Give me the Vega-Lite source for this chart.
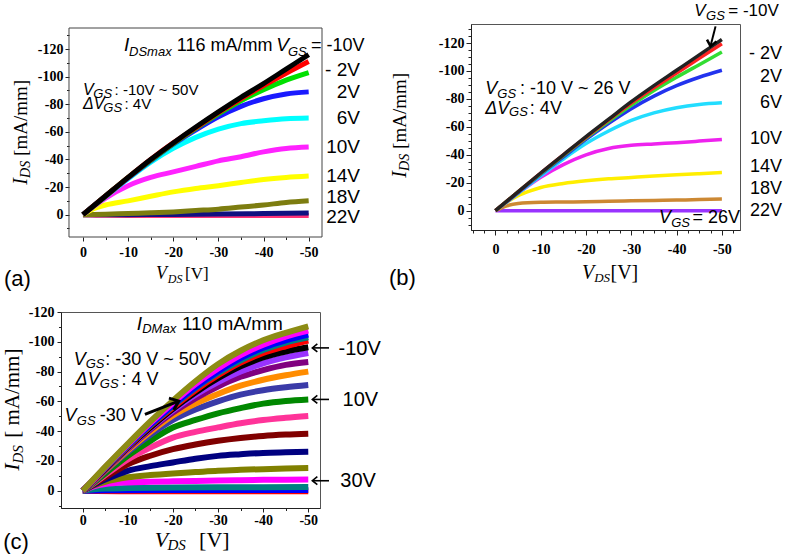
{
"$schema": "https://vega.github.io/schema/vega-lite/v6.json",
"background": "white",
"padding": {"left": 0, "top": 1, "right": 0, "bottom": 0},
"config": {
  "view": {"stroke": "#555", "strokeWidth": 1},
  "axis": {"labelFont": "Liberation Serif", "labelFontWeight": "bold", "labelFontSize": 14, "labelColor": "#000", "tickColor": "#222", "domainColor": "#222", "grid": false, "labelFlush": false, "labelOverlap": false}
},
"resolve": {"scale": {"color": "independent"}},
"datasets": {
  "a": [
    {"vgs":"26","vds":0,"ids":0},{"vgs":"26","vds":-5,"ids":0.5},{"vgs":"26","vds":-10,"ids":0.6},{"vgs":"26","vds":-20,"ids":0.6},{"vgs":"26","vds":-30,"ids":0.6},{"vgs":"26","vds":-40,"ids":0.6},{"vgs":"26","vds":-50,"ids":0.6},
    {"vgs":"22","vds":0,"ids":0},{"vgs":"22","vds":-10,"ids":0},{"vgs":"22","vds":-20,"ids":-0.2},{"vgs":"22","vds":-30,"ids":-0.4},{"vgs":"22","vds":-40,"ids":-0.8},{"vgs":"22","vds":-50,"ids":-1.2},
    {"vgs":"18","vds":0,"ids":0},{"vgs":"18","vds":-5,"ids":-0.3},{"vgs":"18","vds":-10,"ids":-0.8},{"vgs":"18","vds":-15,"ids":-1.3},{"vgs":"18","vds":-20,"ids":-2},{"vgs":"18","vds":-25,"ids":-3},{"vgs":"18","vds":-30,"ids":-4},{"vgs":"18","vds":-35,"ids":-5.5},{"vgs":"18","vds":-40,"ids":-7},{"vgs":"18","vds":-45,"ids":-8.8},{"vgs":"18","vds":-50,"ids":-10},
    {"vgs":"14","vds":0,"ids":0},{"vgs":"14","vds":-2.5,"ids":-4.5},{"vgs":"14","vds":-5,"ids":-7},{"vgs":"14","vds":-10,"ids":-10},{"vgs":"14","vds":-15,"ids":-13.3},{"vgs":"14","vds":-20,"ids":-16.5},{"vgs":"14","vds":-25,"ids":-19},{"vgs":"14","vds":-30,"ids":-21},{"vgs":"14","vds":-35,"ids":-23.3},{"vgs":"14","vds":-40,"ids":-25.5},{"vgs":"14","vds":-45,"ids":-27},{"vgs":"14","vds":-50,"ids":-28},
    {"vgs":"10","vds":0,"ids":0},{"vgs":"10","vds":-2.5,"ids":-6.3},{"vgs":"10","vds":-5,"ids":-12},{"vgs":"10","vds":-10,"ids":-21},{"vgs":"10","vds":-15,"ids":-27},{"vgs":"10","vds":-20,"ids":-31},{"vgs":"10","vds":-25,"ids":-35},{"vgs":"10","vds":-30,"ids":-39},{"vgs":"10","vds":-35,"ids":-42},{"vgs":"10","vds":-40,"ids":-45.5},{"vgs":"10","vds":-45,"ids":-48},{"vgs":"10","vds":-50,"ids":-49},
    {"vgs":"6","vds":0,"ids":0},{"vgs":"6","vds":-5,"ids":-13},{"vgs":"6","vds":-10,"ids":-26},{"vgs":"6","vds":-15,"ids":-38},{"vgs":"6","vds":-20,"ids":-48},{"vgs":"6","vds":-25,"ids":-56},{"vgs":"6","vds":-30,"ids":-62},{"vgs":"6","vds":-35,"ids":-66},{"vgs":"6","vds":-40,"ids":-68},{"vgs":"6","vds":-45,"ids":-69.5},{"vgs":"6","vds":-50,"ids":-70},
    {"vgs":"2","vds":0,"ids":0},{"vgs":"2","vds":-5,"ids":-13.5},{"vgs":"2","vds":-10,"ids":-26.5},{"vgs":"2","vds":-15,"ids":-39},{"vgs":"2","vds":-20,"ids":-51},{"vgs":"2","vds":-25,"ids":-61.5},{"vgs":"2","vds":-30,"ids":-71},{"vgs":"2","vds":-35,"ids":-78.5},{"vgs":"2","vds":-40,"ids":-84},{"vgs":"2","vds":-45,"ids":-87.5},{"vgs":"2","vds":-50,"ids":-89},
    {"vgs":"-2","vds":0,"ids":0},{"vgs":"-2","vds":-5,"ids":-13.5},{"vgs":"-2","vds":-10,"ids":-27},{"vgs":"-2","vds":-15,"ids":-39.5},{"vgs":"-2","vds":-20,"ids":-51.5},{"vgs":"-2","vds":-25,"ids":-62.5},{"vgs":"-2","vds":-30,"ids":-73},{"vgs":"-2","vds":-35,"ids":-82.5},{"vgs":"-2","vds":-40,"ids":-90.5},{"vgs":"-2","vds":-45,"ids":-97.5},{"vgs":"-2","vds":-50,"ids":-103},
    {"vgs":"-6","vds":0,"ids":0},{"vgs":"-6","vds":-5,"ids":-13.5},{"vgs":"-6","vds":-10,"ids":-27},{"vgs":"-6","vds":-15,"ids":-40},{"vgs":"-6","vds":-20,"ids":-52},{"vgs":"-6","vds":-25,"ids":-63},{"vgs":"-6","vds":-30,"ids":-74},{"vgs":"-6","vds":-35,"ids":-84},{"vgs":"-6","vds":-40,"ids":-93.5},{"vgs":"-6","vds":-45,"ids":-102.5},{"vgs":"-6","vds":-50,"ids":-111},
    {"vgs":"-10","vds":0,"ids":0},{"vgs":"-10","vds":-5,"ids":-13.5},{"vgs":"-10","vds":-10,"ids":-27},{"vgs":"-10","vds":-15,"ids":-40},{"vgs":"-10","vds":-20,"ids":-52},{"vgs":"-10","vds":-25,"ids":-63.5},{"vgs":"-10","vds":-30,"ids":-74.5},{"vgs":"-10","vds":-35,"ids":-85},{"vgs":"-10","vds":-40,"ids":-95},{"vgs":"-10","vds":-45,"ids":-105.5},{"vgs":"-10","vds":-50,"ids":-116}
  ],
  "b": [
    {"vgs":"22","vds":0,"ids":0},{"vgs":"22","vds":-10,"ids":0},{"vgs":"22","vds":-20,"ids":0},{"vgs":"22","vds":-30,"ids":0},{"vgs":"22","vds":-40,"ids":0},{"vgs":"22","vds":-50,"ids":0},
    {"vgs":"18","vds":0,"ids":0},{"vgs":"18","vds":-2.5,"ids":-3.5},{"vgs":"18","vds":-5,"ids":-5.2},{"vgs":"18","vds":-10,"ids":-6},{"vgs":"18","vds":-15,"ids":-6.2},{"vgs":"18","vds":-20,"ids":-6.4},{"vgs":"18","vds":-25,"ids":-6.8},{"vgs":"18","vds":-30,"ids":-7.1},{"vgs":"18","vds":-35,"ids":-7.3},{"vgs":"18","vds":-40,"ids":-7.6},{"vgs":"18","vds":-45,"ids":-8},{"vgs":"18","vds":-50,"ids":-8.3},
    {"vgs":"14","vds":0,"ids":0},{"vgs":"14","vds":-2.5,"ids":-6},{"vgs":"14","vds":-5,"ids":-10.7},{"vgs":"14","vds":-7.5,"ids":-14},{"vgs":"14","vds":-10,"ids":-16.6},{"vgs":"14","vds":-15,"ids":-19.5},{"vgs":"14","vds":-20,"ids":-21.4},{"vgs":"14","vds":-25,"ids":-22.8},{"vgs":"14","vds":-30,"ids":-23.8},{"vgs":"14","vds":-35,"ids":-24.8},{"vgs":"14","vds":-40,"ids":-25.7},{"vgs":"14","vds":-45,"ids":-26.5},{"vgs":"14","vds":-50,"ids":-27.3},
    {"vgs":"10","vds":0,"ids":0},{"vgs":"10","vds":-5,"ids":-12.5},{"vgs":"10","vds":-10,"ids":-24},{"vgs":"10","vds":-15,"ids":-33},{"vgs":"10","vds":-20,"ids":-40},{"vgs":"10","vds":-25,"ids":-44.5},{"vgs":"10","vds":-30,"ids":-46.8},{"vgs":"10","vds":-35,"ids":-47.8},{"vgs":"10","vds":-40,"ids":-48.7},{"vgs":"10","vds":-45,"ids":-49.8},{"vgs":"10","vds":-50,"ids":-51},
    {"vgs":"6","vds":0,"ids":0},{"vgs":"6","vds":-5,"ids":-12.5},{"vgs":"6","vds":-10,"ids":-25},{"vgs":"6","vds":-15,"ids":-37},{"vgs":"6","vds":-20,"ids":-48},{"vgs":"6","vds":-25,"ids":-57},{"vgs":"6","vds":-30,"ids":-64.6},{"vgs":"6","vds":-35,"ids":-70},{"vgs":"6","vds":-40,"ids":-73.7},{"vgs":"6","vds":-45,"ids":-76},{"vgs":"6","vds":-50,"ids":-77.2},
    {"vgs":"2","vds":0,"ids":0},{"vgs":"2","vds":-5,"ids":-13},{"vgs":"2","vds":-10,"ids":-26},{"vgs":"2","vds":-15,"ids":-38.5},{"vgs":"2","vds":-20,"ids":-51},{"vgs":"2","vds":-25,"ids":-62.5},{"vgs":"2","vds":-30,"ids":-73},{"vgs":"2","vds":-35,"ids":-82},{"vgs":"2","vds":-40,"ids":-89.5},{"vgs":"2","vds":-45,"ids":-95.5},{"vgs":"2","vds":-50,"ids":-100.5},
    {"vgs":"-2","vds":0,"ids":0},{"vgs":"-2","vds":-5,"ids":-13.5},{"vgs":"-2","vds":-10,"ids":-26.5},{"vgs":"-2","vds":-15,"ids":-39.5},{"vgs":"-2","vds":-20,"ids":-52},{"vgs":"-2","vds":-25,"ids":-64},{"vgs":"-2","vds":-30,"ids":-75.5},{"vgs":"-2","vds":-35,"ids":-86},{"vgs":"-2","vds":-40,"ids":-95.5},{"vgs":"-2","vds":-45,"ids":-104.5},{"vgs":"-2","vds":-50,"ids":-113.5},
    {"vgs":"-6","vds":0,"ids":0},{"vgs":"-6","vds":-5,"ids":-13.5},{"vgs":"-6","vds":-10,"ids":-27},{"vgs":"-6","vds":-15,"ids":-40},{"vgs":"-6","vds":-20,"ids":-52.5},{"vgs":"-6","vds":-25,"ids":-65},{"vgs":"-6","vds":-30,"ids":-77},{"vgs":"-6","vds":-35,"ids":-88},{"vgs":"-6","vds":-40,"ids":-98.5},{"vgs":"-6","vds":-45,"ids":-109},{"vgs":"-6","vds":-50,"ids":-119.5},
    {"vgs":"-10","vds":0,"ids":0},{"vgs":"-10","vds":-5,"ids":-13.5},{"vgs":"-10","vds":-10,"ids":-27},{"vgs":"-10","vds":-15,"ids":-40},{"vgs":"-10","vds":-20,"ids":-53},{"vgs":"-10","vds":-25,"ids":-65.5},{"vgs":"-10","vds":-30,"ids":-78},{"vgs":"-10","vds":-35,"ids":-89.5},{"vgs":"-10","vds":-40,"ids":-100.5},{"vgs":"-10","vds":-45,"ids":-111.5},{"vgs":"-10","vds":-50,"ids":-122.5}
  ],
  "c": [
    {"vgs":"42","vds":0,"ids":0},{"vgs":"42","vds":-10,"ids":0.3},{"vgs":"42","vds":-30,"ids":0.3},{"vgs":"42","vds":-50,"ids":0.3},
    {"vgs":"38","vds":0,"ids":0},{"vgs":"38","vds":-5,"ids":-0.3},{"vgs":"38","vds":-20,"ids":-0.5},{"vgs":"38","vds":-50,"ids":-0.5},
    {"vgs":"34","vds":0,"ids":0},{"vgs":"34","vds":-2.5,"ids":-1},{"vgs":"34","vds":-5,"ids":-1.5},{"vgs":"34","vds":-10,"ids":-1.8},{"vgs":"34","vds":-20,"ids":-2.1},{"vgs":"34","vds":-30,"ids":-2.3},{"vgs":"34","vds":-40,"ids":-2.4},{"vgs":"34","vds":-50,"ids":-2.5},
    {"vgs":"30","vds":0,"ids":0},{"vgs":"30","vds":-2.5,"ids":-3},{"vgs":"30","vds":-5,"ids":-4.5},{"vgs":"30","vds":-10,"ids":-5.6},{"vgs":"30","vds":-15,"ids":-6},{"vgs":"30","vds":-20,"ids":-6.3},{"vgs":"30","vds":-25,"ids":-6.6},{"vgs":"30","vds":-30,"ids":-6.9},{"vgs":"30","vds":-35,"ids":-7.1},{"vgs":"30","vds":-40,"ids":-7.3},{"vgs":"30","vds":-45,"ids":-7.4},{"vgs":"30","vds":-50,"ids":-7.5},
    {"vgs":"26","vds":0,"ids":0},{"vgs":"26","vds":-2.5,"ids":-3.5},{"vgs":"26","vds":-5,"ids":-6},{"vgs":"26","vds":-10,"ids":-9},{"vgs":"26","vds":-15,"ids":-10.5},{"vgs":"26","vds":-20,"ids":-11.6},{"vgs":"26","vds":-25,"ids":-12.5},{"vgs":"26","vds":-30,"ids":-13.4},{"vgs":"26","vds":-35,"ids":-14},{"vgs":"26","vds":-40,"ids":-14.5},{"vgs":"26","vds":-45,"ids":-14.9},{"vgs":"26","vds":-50,"ids":-15.2},
    {"vgs":"22","vds":0,"ids":0},{"vgs":"22","vds":-2.5,"ids":-4},{"vgs":"22","vds":-5,"ids":-7.5},{"vgs":"22","vds":-10,"ids":-13.4},{"vgs":"22","vds":-15,"ids":-16.5},{"vgs":"22","vds":-20,"ids":-19},{"vgs":"22","vds":-25,"ids":-21.5},{"vgs":"22","vds":-30,"ids":-23.4},{"vgs":"22","vds":-35,"ids":-24.5},{"vgs":"22","vds":-40,"ids":-25.4},{"vgs":"22","vds":-45,"ids":-25.8},{"vgs":"22","vds":-50,"ids":-26.1},
    {"vgs":"18","vds":0,"ids":0},{"vgs":"18","vds":-2.5,"ids":-4.5},{"vgs":"18","vds":-5,"ids":-9},{"vgs":"18","vds":-10,"ids":-17.8},{"vgs":"18","vds":-15,"ids":-23.5},{"vgs":"18","vds":-20,"ids":-27.9},{"vgs":"18","vds":-25,"ids":-31},{"vgs":"18","vds":-30,"ids":-33.5},{"vgs":"18","vds":-35,"ids":-35.4},{"vgs":"18","vds":-40,"ids":-36.8},{"vgs":"18","vds":-45,"ids":-37.7},{"vgs":"18","vds":-50,"ids":-38.3},
    {"vgs":"14","vds":0,"ids":0},{"vgs":"14","vds":-2.5,"ids":-5},{"vgs":"14","vds":-5,"ids":-10.5},{"vgs":"14","vds":-10,"ids":-21},{"vgs":"14","vds":-15,"ids":-29},{"vgs":"14","vds":-20,"ids":-35.7},{"vgs":"14","vds":-25,"ids":-39.5},{"vgs":"14","vds":-30,"ids":-42.5},{"vgs":"14","vds":-35,"ids":-45.3},{"vgs":"14","vds":-40,"ids":-47.5},{"vgs":"14","vds":-45,"ids":-49},{"vgs":"14","vds":-50,"ids":-50.2},
    {"vgs":"10","vds":0,"ids":0},{"vgs":"10","vds":-2.5,"ids":-5.5},{"vgs":"10","vds":-5,"ids":-11.5},{"vgs":"10","vds":-10,"ids":-23.5},{"vgs":"10","vds":-15,"ids":-33.5},{"vgs":"10","vds":-20,"ids":-42.4},{"vgs":"10","vds":-25,"ids":-47.5},{"vgs":"10","vds":-30,"ids":-52},{"vgs":"10","vds":-35,"ids":-55.5},{"vgs":"10","vds":-40,"ids":-58.5},{"vgs":"10","vds":-45,"ids":-60.3},{"vgs":"10","vds":-50,"ids":-61.3},
    {"vgs":"6","vds":0,"ids":0},{"vgs":"6","vds":-2.5,"ids":-6},{"vgs":"6","vds":-5,"ids":-13},{"vgs":"6","vds":-10,"ids":-26},{"vgs":"6","vds":-15,"ids":-37.5},{"vgs":"6","vds":-20,"ids":-47.5},{"vgs":"6","vds":-25,"ids":-54.5},{"vgs":"6","vds":-30,"ids":-60},{"vgs":"6","vds":-35,"ids":-64.5},{"vgs":"6","vds":-40,"ids":-67.5},{"vgs":"6","vds":-45,"ids":-69.5},{"vgs":"6","vds":-50,"ids":-71},
    {"vgs":"2","vds":0,"ids":0},{"vgs":"2","vds":-2.5,"ids":-6.5},{"vgs":"2","vds":-5,"ids":-13.5},{"vgs":"2","vds":-10,"ids":-27},{"vgs":"2","vds":-15,"ids":-39.5},{"vgs":"2","vds":-20,"ids":-50.5},{"vgs":"2","vds":-25,"ids":-58.5},{"vgs":"2","vds":-30,"ids":-65},{"vgs":"2","vds":-35,"ids":-70.5},{"vgs":"2","vds":-40,"ids":-74.5},{"vgs":"2","vds":-45,"ids":-77.5},{"vgs":"2","vds":-50,"ids":-80},
    {"vgs":"-2","vds":0,"ids":0},{"vgs":"-2","vds":-2.5,"ids":-7},{"vgs":"-2","vds":-5,"ids":-14},{"vgs":"-2","vds":-10,"ids":-28},{"vgs":"-2","vds":-15,"ids":-41},{"vgs":"-2","vds":-20,"ids":-52.5},{"vgs":"-2","vds":-25,"ids":-62},{"vgs":"-2","vds":-30,"ids":-70},{"vgs":"-2","vds":-35,"ids":-76.5},{"vgs":"-2","vds":-40,"ids":-81},{"vgs":"-2","vds":-45,"ids":-84.5},{"vgs":"-2","vds":-50,"ids":-86.5},
    {"vgs":"-6","vds":0,"ids":0},{"vgs":"-6","vds":-2.5,"ids":-7},{"vgs":"-6","vds":-5,"ids":-14.5},{"vgs":"-6","vds":-10,"ids":-28.5},{"vgs":"-6","vds":-15,"ids":-42},{"vgs":"-6","vds":-20,"ids":-54},{"vgs":"-6","vds":-25,"ids":-64.5},{"vgs":"-6","vds":-30,"ids":-73},{"vgs":"-6","vds":-35,"ids":-80},{"vgs":"-6","vds":-40,"ids":-85.5},{"vgs":"-6","vds":-45,"ids":-89.5},{"vgs":"-6","vds":-50,"ids":-92.5},
    {"vgs":"-10","vds":0,"ids":0},{"vgs":"-10","vds":-2.5,"ids":-7},{"vgs":"-10","vds":-5,"ids":-14.5},{"vgs":"-10","vds":-10,"ids":-29},{"vgs":"-10","vds":-15,"ids":-42.5},{"vgs":"-10","vds":-20,"ids":-55},{"vgs":"-10","vds":-25,"ids":-66},{"vgs":"-10","vds":-30,"ids":-75.5},{"vgs":"-10","vds":-35,"ids":-83.5},{"vgs":"-10","vds":-40,"ids":-89.5},{"vgs":"-10","vds":-45,"ids":-93.5},{"vgs":"-10","vds":-50,"ids":-96.3},
    {"vgs":"-14","vds":0,"ids":0},{"vgs":"-14","vds":-2.5,"ids":-7.2},{"vgs":"-14","vds":-5,"ids":-15},{"vgs":"-14","vds":-10,"ids":-29.5},{"vgs":"-14","vds":-15,"ids":-43.5},{"vgs":"-14","vds":-20,"ids":-56},{"vgs":"-14","vds":-25,"ids":-67.5},{"vgs":"-14","vds":-30,"ids":-77.5},{"vgs":"-14","vds":-35,"ids":-86},{"vgs":"-14","vds":-40,"ids":-92.5},{"vgs":"-14","vds":-45,"ids":-97},{"vgs":"-14","vds":-50,"ids":-100.8},
    {"vgs":"-18","vds":0,"ids":0},{"vgs":"-18","vds":-2.5,"ids":-7.4},{"vgs":"-18","vds":-5,"ids":-15.2},{"vgs":"-18","vds":-10,"ids":-30},{"vgs":"-18","vds":-15,"ids":-44},{"vgs":"-18","vds":-20,"ids":-57},{"vgs":"-18","vds":-25,"ids":-69},{"vgs":"-18","vds":-30,"ids":-79},{"vgs":"-18","vds":-35,"ids":-87.5},{"vgs":"-18","vds":-40,"ids":-94.5},{"vgs":"-18","vds":-45,"ids":-99.5},{"vgs":"-18","vds":-50,"ids":-103},
    {"vgs":"-22","vds":0,"ids":0},{"vgs":"-22","vds":-2.5,"ids":-7.5},{"vgs":"-22","vds":-5,"ids":-15.5},{"vgs":"-22","vds":-10,"ids":-30.5},{"vgs":"-22","vds":-15,"ids":-44.5},{"vgs":"-22","vds":-20,"ids":-57.5},{"vgs":"-22","vds":-25,"ids":-69.5},{"vgs":"-22","vds":-30,"ids":-80},{"vgs":"-22","vds":-35,"ids":-89},{"vgs":"-22","vds":-40,"ids":-96},{"vgs":"-22","vds":-45,"ids":-101},{"vgs":"-22","vds":-50,"ids":-104.8},
    {"vgs":"-26","vds":0,"ids":0},{"vgs":"-26","vds":-2.5,"ids":-7.7},{"vgs":"-26","vds":-5,"ids":-15.7},{"vgs":"-26","vds":-10,"ids":-31},{"vgs":"-26","vds":-15,"ids":-45.5},{"vgs":"-26","vds":-20,"ids":-59},{"vgs":"-26","vds":-25,"ids":-71.5},{"vgs":"-26","vds":-30,"ids":-82},{"vgs":"-26","vds":-35,"ids":-91},{"vgs":"-26","vds":-40,"ids":-98},{"vgs":"-26","vds":-45,"ids":-103.5},{"vgs":"-26","vds":-50,"ids":-107.5},
    {"vgs":"-30","vds":0,"ids":0},{"vgs":"-30","vds":-2.5,"ids":-8},{"vgs":"-30","vds":-5,"ids":-16},{"vgs":"-30","vds":-10,"ids":-31.5},{"vgs":"-30","vds":-15,"ids":-46.5},{"vgs":"-30","vds":-20,"ids":-60.5},{"vgs":"-30","vds":-25,"ids":-73.5},{"vgs":"-30","vds":-30,"ids":-85},{"vgs":"-30","vds":-35,"ids":-94},{"vgs":"-30","vds":-40,"ids":-101},{"vgs":"-30","vds":-45,"ids":-106},{"vgs":"-30","vds":-50,"ids":-110.4}
  ]
},
"columns": 2,
"spacing": {"row": 75, "column": 149},
"bounds": "flush",
"concat": [
  {
    "width": 261, "height": 213,
    "view": {"stroke": null},
    "resolve": {"axis": {"x": "independent", "y": "independent"}},
    "layer": [
      {"data": {"values": [{"x": 3.1, "x2": -52.95, "y": -135.3, "y2": 16.2}]},
       "mark": {"type": "rect", "fill": null, "stroke": "#444", "strokeWidth": 1},
       "encoding": {"x": {"field": "x", "type": "quantitative", "axis": null}, "x2": {"field": "x2"}, "y": {"field": "y", "type": "quantitative", "axis": null}, "y2": {"field": "y2"}}},
      {"data": {"name": "a"}, "mark": {"type": "line", "strokeWidth": 5, "interpolate": "monotone"},
       "encoding": {
         "x": {"field": "vds", "type": "quantitative", "scale": {"domain": [-52.95, 4.87], "reverse": true, "nice": false, "zero": false}, "axis": {"orient": "bottom", "domain": false, "values": [0,-10,-20,-30,-40,-50], "tickSize": 4, "labelPadding": 4, "title": null, "labelExpr": "'' + datum.value"}},
         "y": {"field": "ids", "type": "quantitative", "scale": {"domain": [-138.2, 16.2], "reverse": true, "nice": false, "zero": false}, "axis": {"orient": "left", "offset": -8, "domain": false, "values": [-120,-100,-80,-60,-40,-20,0], "tickSize": 4, "labelPadding": 2, "title": null, "labelExpr": "'' + datum.value"}},
         "color": {"field": "vgs", "type": "nominal", "legend": null, "sort": null, "scale": {"domain": ["26","22","18","14","10","6","2","-2","-6","-10"], "range": ["#ff3377","#101080","#7d7d10","#ffff00","#ff22ff","#00ffff","#1a1aff","#00e000","#ff0000","#000000"]}}
       }},
      {"data": {"name": "a"}, "mark": {"type": "point", "opacity": 0},
       "encoding": {
         "x": {"field": "vds", "type": "quantitative", "axis": {"orient": "bottom", "values": [-5,-15,-25,-35,-45], "labels": false, "domain": false, "tickSize": 2.5, "title": null}},
         "y": {"field": "ids", "type": "quantitative", "axis": {"orient": "left", "offset": -8, "values": [-130,-110,-90,-70,-50,-30,-10,10], "labels": false, "domain": false, "tickSize": 2.5, "title": null}}
       }},
      {"data": {"values": [{"x":-20.8,"y":-118.8,"t":"116 mA/mm"},{"x":-50.5,"y":-118.8,"t":"= -10V"}]},
       "mark": {"type": "text", "font": "Liberation Sans", "fontSize": 18, "align": "left", "baseline": "alphabetic"},
       "encoding": {"x": {"field": "x", "type": "quantitative", "axis": null}, "y": {"field": "y", "type": "quantitative", "axis": null}, "text": {"field": "t"}}},
      {"data": {"values": [{"x":-9.08,"y":-118.8,"t":"I"},{"x":-42.8,"y":-118.8,"t":"V"}]},
       "mark": {"type": "text", "font": "Liberation Sans", "fontSize": 19, "fontStyle": "italic", "align": "left", "baseline": "alphabetic"},
       "encoding": {"x": {"field": "x", "type": "quantitative", "axis": null}, "y": {"field": "y", "type": "quantitative", "axis": null}, "text": {"field": "t"}}},
      {"data": {"values": [{"x":-10.2,"y":-115.2,"t":"DSmax"},{"x":-45.4,"y":-115.2,"t":"GS"},{"x":-2.3,"y":-84.6,"t":"GS"},{"x":-4.5,"y":-74.6,"t":"GS"}]},
       "mark": {"type": "text", "font": "Liberation Sans", "fontSize": 13, "fontStyle": "italic", "align": "left", "baseline": "alphabetic"},
       "encoding": {"x": {"field": "x", "type": "quantitative", "axis": null}, "y": {"field": "y", "type": "quantitative", "axis": null}, "text": {"field": "t"}}},
      {"data": {"values": [{"x":-7.0,"y":-86.8,"t":": -10V ~ 50V"},{"x":-9.2,"y":-76.7,"t":": 4V"}]},
       "mark": {"type": "text", "font": "Liberation Sans", "fontSize": 15, "align": "left", "baseline": "alphabetic"},
       "encoding": {"x": {"field": "x", "type": "quantitative", "axis": null}, "y": {"field": "y", "type": "quantitative", "axis": null}, "text": {"field": "t"}}},
      {"data": {"values": [{"x":0,"y":-86.8,"t":"V"},{"x":0,"y":-76.7,"t":"ΔV"}]},
       "mark": {"type": "text", "font": "Liberation Sans", "fontSize": 16, "fontStyle": "italic", "align": "left", "baseline": "alphabetic"},
       "encoding": {"x": {"field": "x", "type": "quantitative", "axis": null}, "y": {"field": "y", "type": "quantitative", "axis": null}, "text": {"field": "t"}}},
      {"data": {"values": [{"x":-61.36,"y":-100.7,"t":"- 2V"},{"x":-61.36,"y":-84.9,"t":"2V"},{"x":-61.36,"y":-66.0,"t":"6V"},{"x":-61.36,"y":-45.0,"t":"10V"},{"x":-61.36,"y":-23.9,"t":"14V"},{"x":-61.36,"y":-8.7,"t":"18V"},{"x":-61.36,"y":6.3,"t":"22V"}]},
       "mark": {"type": "text", "font": "Liberation Sans", "fontSize": 19, "align": "right", "baseline": "alphabetic"},
       "encoding": {"x": {"field": "x", "type": "quantitative", "axis": null}, "y": {"field": "y", "type": "quantitative", "axis": null}, "text": {"field": "t"}}},
      {"data": {"values": [{"x":-16.2,"y":46.7,"t":"V"}]},
       "mark": {"type": "text", "font": "Liberation Serif", "fontSize": 18, "fontStyle": "italic", "align": "left", "baseline": "alphabetic"},
       "encoding": {"x": {"field": "x", "type": "quantitative", "axis": null}, "y": {"field": "y", "type": "quantitative", "axis": null}, "text": {"field": "t"}}},
      {"data": {"values": [{"x":-18.8,"y":49.6,"t":"DS"}]},
       "mark": {"type": "text", "font": "Liberation Serif", "fontSize": 12, "fontStyle": "italic", "align": "left", "baseline": "alphabetic"},
       "encoding": {"x": {"field": "x", "type": "quantitative", "axis": null}, "y": {"field": "y", "type": "quantitative", "axis": null}, "text": {"field": "t"}}},
      {"data": {"values": [{"x":-22.6,"y":46.7,"t":"[V]"}]},
       "mark": {"type": "text", "font": "Liberation Serif", "fontSize": 17, "align": "left", "baseline": "alphabetic"},
       "encoding": {"x": {"field": "x", "type": "quantitative", "axis": null}, "y": {"field": "y", "type": "quantitative", "axis": null}, "text": {"field": "t"}}},
      {"data": {"values": [{"x":12.4,"y":-21.6,"t":"I"}]},
       "mark": {"type": "text", "font": "Liberation Serif", "fontSize": 20, "fontStyle": "italic", "align": "left", "baseline": "alphabetic", "angle": 270},
       "encoding": {"x": {"field": "x", "type": "quantitative", "axis": null}, "y": {"field": "y", "type": "quantitative", "axis": null}, "text": {"field": "t"}}},
      {"data": {"values": [{"x":11.7,"y":-26.6,"t":"DS"}]},
       "mark": {"type": "text", "font": "Liberation Serif", "fontSize": 14, "fontStyle": "italic", "align": "left", "baseline": "alphabetic", "angle": 270},
       "encoding": {"x": {"field": "x", "type": "quantitative", "axis": null}, "y": {"field": "y", "type": "quantitative", "axis": null}, "text": {"field": "t"}}},
      {"data": {"values": [{"x":12.4,"y":-42.6,"t":"[mA/mm]"}]},
       "mark": {"type": "text", "font": "Liberation Serif", "fontSize": 19, "align": "left", "baseline": "alphabetic", "angle": 270},
       "encoding": {"x": {"field": "x", "type": "quantitative", "axis": null}, "y": {"field": "y", "type": "quantitative", "axis": null}, "text": {"field": "t"}}},
      {"data": {"values": [{"x":17.5,"y":51.7,"t":"(a)"}]},
       "mark": {"type": "text", "font": "Liberation Sans", "fontSize": 22, "align": "left", "baseline": "alphabetic"},
       "encoding": {"x": {"field": "x", "type": "quantitative", "axis": null}, "y": {"field": "y", "type": "quantitative", "axis": null}, "text": {"field": "t"}}}
    ]
  },
  {
    "width": 269, "height": 206,
    "resolve": {"axis": {"x": "independent", "y": "independent"}},
    "layer": [
      {"data": {"name": "b"}, "mark": {"type": "line", "strokeWidth": 3.5, "interpolate": "monotone"},
       "encoding": {
         "x": {"field": "vds", "type": "quantitative", "scale": {"domain": [-54, 5.4], "reverse": true, "nice": false, "zero": false}, "axis": {"orient": "bottom", "values": [0,-10,-20,-30,-40,-50], "tickSize": 5, "labelPadding": 7, "title": null, "labelExpr": "'' + datum.value"}},
         "y": {"field": "ids", "type": "quantitative", "scale": {"domain": [-133.6, 13.8], "reverse": true, "nice": false, "zero": false}, "axis": {"orient": "left", "values": [-120,-100,-80,-60,-40,-20,0], "tickSize": 5, "labelPadding": 2, "title": null, "labelExpr": "'' + datum.value"}},
         "color": {"field": "vgs", "type": "nominal", "legend": null, "sort": null, "scale": {"domain": ["22","18","14","10","6","2","-2","-6","-10"], "range": ["#9933ff","#cc8833","#ffee00","#ee22ee","#22ddff","#2233ee","#33dd33","#ff2222","#222222"]}}
       }},
      {"data": {"name": "b"}, "mark": {"type": "point", "opacity": 0},
       "encoding": {
         "x": {"field": "vds", "type": "quantitative", "axis": {"orient": "bottom", "values": [5,2.5,-2.5,-5,-7.5,-12.5,-15,-17.5,-22.5,-25,-27.5,-32.5,-35,-37.5,-42.5,-45,-47.5,-52.5], "labels": false, "domain": false, "tickSize": 3, "title": null}},
         "y": {"field": "ids", "type": "quantitative", "axis": {"orient": "left", "values": [-130,-125,-115,-110,-105,-95,-90,-85,-75,-70,-65,-55,-50,-45,-35,-30,-25,-15,-10,-5,5,10], "labels": false, "domain": false, "tickSize": 3, "title": null}}
       }},
      {"data": {"values": [{"x":-51.4,"y":-139.0,"t":"= -10V"}]},
       "mark": {"type": "text", "font": "Liberation Sans", "fontSize": 17, "align": "left", "baseline": "alphabetic"},
       "encoding": {"x": {"field": "x", "type": "quantitative", "axis": null}, "y": {"field": "y", "type": "quantitative", "axis": null}, "text": {"field": "t"}}},
      {"data": {"values": [{"x":-43.9,"y":-139.0,"t":"V"}]},
       "mark": {"type": "text", "font": "Liberation Sans", "fontSize": 17, "fontStyle": "italic", "align": "left", "baseline": "alphabetic"},
       "encoding": {"x": {"field": "x", "type": "quantitative", "axis": null}, "y": {"field": "y", "type": "quantitative", "axis": null}, "text": {"field": "t"}}},
      {"data": {"values": [{"x":-46.5,"y":-136.2,"t":"GS"},{"x":-0.4,"y":-80.8,"t":"GS"},{"x":-3.0,"y":-67.7,"t":"GS"},{"x":-38.8,"y":11.9,"t":"GS"}]},
       "mark": {"type": "text", "font": "Liberation Sans", "fontSize": 13, "fontStyle": "italic", "align": "left", "baseline": "alphabetic"},
       "encoding": {"x": {"field": "x", "type": "quantitative", "axis": null}, "y": {"field": "y", "type": "quantitative", "axis": null}, "text": {"field": "t"}}},
      {"data": {"values": [{"x":-5.4,"y":-83.2,"t":": -10 V ~ 26 V"},{"x":-7.6,"y":-69.4,"t":": 4V"},{"x":-43.5,"y":9.1,"t":"= 26V"}]},
       "mark": {"type": "text", "font": "Liberation Sans", "fontSize": 18, "align": "left", "baseline": "alphabetic"},
       "encoding": {"x": {"field": "x", "type": "quantitative", "axis": null}, "y": {"field": "y", "type": "quantitative", "axis": null}, "text": {"field": "t"}}},
      {"data": {"values": [{"x":2.27,"y":-83.2,"t":"V"},{"x":2.27,"y":-69.4,"t":"ΔV"},{"x":-36.1,"y":9.1,"t":"V"}]},
       "mark": {"type": "text", "font": "Liberation Sans", "fontSize": 18, "fontStyle": "italic", "align": "left", "baseline": "alphabetic"},
       "encoding": {"x": {"field": "x", "type": "quantitative", "axis": null}, "y": {"field": "y", "type": "quantitative", "axis": null}, "text": {"field": "t"}}},
      {"data": {"values": [{"x":-63.3,"y":-108.9,"t":"- 2V"},{"x":-63.3,"y":-92.0,"t":"2V"},{"x":-63.3,"y":-73.2,"t":"6V"},{"x":-63.3,"y":-48.0,"t":"10V"},{"x":-63.3,"y":-28.0,"t":"14V"},{"x":-63.3,"y":-11.9,"t":"18V"},{"x":-63.3,"y":3.6,"t":"22V"}]},
       "mark": {"type": "text", "font": "Liberation Sans", "fontSize": 18, "align": "right", "baseline": "alphabetic"},
       "encoding": {"x": {"field": "x", "type": "quantitative", "axis": null}, "y": {"field": "y", "type": "quantitative", "axis": null}, "text": {"field": "t"}}},
      {"data": {"values": [{"x":-19.1,"y":48.7,"t":"V"}]},
       "mark": {"type": "text", "font": "Liberation Serif", "fontSize": 20, "fontStyle": "italic", "align": "left", "baseline": "alphabetic"},
       "encoding": {"x": {"field": "x", "type": "quantitative", "axis": null}, "y": {"field": "y", "type": "quantitative", "axis": null}, "text": {"field": "t"}}},
      {"data": {"values": [{"x":-21.8,"y":51.3,"t":"DS"}]},
       "mark": {"type": "text", "font": "Liberation Serif", "fontSize": 13, "fontStyle": "italic", "align": "left", "baseline": "alphabetic"},
       "encoding": {"x": {"field": "x", "type": "quantitative", "axis": null}, "y": {"field": "y", "type": "quantitative", "axis": null}, "text": {"field": "t"}}},
      {"data": {"values": [{"x":-25.4,"y":48.7,"t":"[V]"}]},
       "mark": {"type": "text", "font": "Liberation Serif", "fontSize": 20, "align": "left", "baseline": "alphabetic"},
       "encoding": {"x": {"field": "x", "type": "quantitative", "axis": null}, "y": {"field": "y", "type": "quantitative", "axis": null}, "text": {"field": "t"}}},
      {"data": {"values": [{"x":19.7,"y":-23.5,"t":"I"}]},
       "mark": {"type": "text", "font": "Liberation Serif", "fontSize": 20, "fontStyle": "italic", "align": "left", "baseline": "alphabetic", "angle": 270},
       "encoding": {"x": {"field": "x", "type": "quantitative", "axis": null}, "y": {"field": "y", "type": "quantitative", "axis": null}, "text": {"field": "t"}}},
      {"data": {"values": [{"x":19.05,"y":-28.5,"t":"DS"}]},
       "mark": {"type": "text", "font": "Liberation Serif", "fontSize": 14, "fontStyle": "italic", "align": "left", "baseline": "alphabetic", "angle": 270},
       "encoding": {"x": {"field": "x", "type": "quantitative", "axis": null}, "y": {"field": "y", "type": "quantitative", "axis": null}, "text": {"field": "t"}}},
      {"data": {"values": [{"x":19.7,"y":-44.2,"t":"[mA/mm]"}]},
       "mark": {"type": "text", "font": "Liberation Serif", "fontSize": 19, "align": "left", "baseline": "alphabetic", "angle": 270},
       "encoding": {"x": {"field": "x", "type": "quantitative", "axis": null}, "y": {"field": "y", "type": "quantitative", "axis": null}, "text": {"field": "t"}}},
      {"data": {"values": [{"x":23.5,"y":53.5,"t":"(b)"}]},
       "mark": {"type": "text", "font": "Liberation Sans", "fontSize": 22, "align": "left", "baseline": "alphabetic"},
       "encoding": {"x": {"field": "x", "type": "quantitative", "axis": null}, "y": {"field": "y", "type": "quantitative", "axis": null}, "text": {"field": "t"}}},
      {"data": {"values": [{"x":-48.6,"y":-131.9,"x2":-47.55,"y2":-118.5}]},
       "mark": {"type": "rule", "strokeWidth": 2, "color": "#000"},
       "encoding": {"x": {"field": "x", "type": "quantitative", "axis": null}, "y": {"field": "y", "type": "quantitative", "axis": null}, "x2": {"field": "x2"}, "y2": {"field": "y2"}}},
      {"data": {"values": [{"x":-47.5,"y":-117.6}]},
       "mark": {"type": "point", "shape": "M-1,-0.8L0,0L-1,0.8", "filled": false, "size": 144, "angle": 101, "strokeWidth": 2.5, "color": "#000", "opacity": 1},
       "encoding": {"x": {"field": "x", "type": "quantitative", "axis": null}, "y": {"field": "y", "type": "quantitative", "axis": null}}}
    ]
  },
  {
    "width": 259, "height": 196,
    "resolve": {"axis": {"x": "independent", "y": "independent"}},
    "layer": [
      {"data": {"name": "c"}, "mark": {"type": "line", "strokeWidth": 6, "interpolate": "monotone"},
       "encoding": {
         "x": {"field": "vds", "type": "quantitative", "scale": {"domain": [-52.6, 4.8], "reverse": true, "nice": false, "zero": false}, "axis": {"orient": "bottom", "values": [0,-10,-20,-30,-40,-50], "tickSize": 4, "labelPadding": 1, "title": null, "labelExpr": "'' + datum.value"}},
         "y": {"field": "ids", "type": "quantitative", "scale": {"domain": [-120, 11.6], "reverse": true, "nice": false, "zero": false}, "axis": {"orient": "left", "values": [-120,-100,-80,-60,-40,-20,0], "tickSize": 4, "labelPadding": 3, "title": null, "labelExpr": "'' + datum.value"}},
         "color": {"field": "vgs", "type": "nominal", "legend": null, "sort": null, "scale": {"domain": ["42","38","34","30","26","22","18","14","10","6","2","-2","-6","-10","-14","-18","-22","-26","-30"], "range": ["#ff0000","#0000ff","#008080","#ff00ff","#808000","#000080","#800000","#ff3399","#008800","#3a3aa8","#ff8c00","#800080","#9933ff","#000000","#ff0000","#008080","#0000ff","#ff00ff","#8c8c14"]}}
       }},
      {"data": {"name": "c"}, "mark": {"type": "point", "opacity": 0},
       "encoding": {
         "x": {"field": "vds", "type": "quantitative", "axis": {"orient": "bottom", "values": [-5,-15,-25,-35,-45], "labels": false, "domain": false, "tickSize": 2.5, "title": null}},
         "y": {"field": "ids", "type": "quantitative", "axis": {"orient": "left", "values": [-110,-90,-70,-50,-30,-10,10], "labels": false, "domain": false, "tickSize": 2.5, "title": null}}
       }},
      {"data": {"values": [{"x":-22,"y":-108.2,"t":"110 mA/mm"}]},
       "mark": {"type": "text", "font": "Liberation Sans", "fontSize": 19, "align": "left", "baseline": "alphabetic"},
       "encoding": {"x": {"field": "x", "type": "quantitative", "axis": null}, "y": {"field": "y", "type": "quantitative", "axis": null}, "text": {"field": "t"}}},
      {"data": {"values": [{"x":-12,"y":-108.2,"t":"I"}]},
       "mark": {"type": "text", "font": "Liberation Sans", "fontSize": 19, "fontStyle": "italic", "align": "left", "baseline": "alphabetic"},
       "encoding": {"x": {"field": "x", "type": "quantitative", "axis": null}, "y": {"field": "y", "type": "quantitative", "axis": null}, "text": {"field": "t"}}},
      {"data": {"values": [{"x":-13.2,"y":-105.9,"t":"DMax"},{"x":-0.67,"y":-82.1,"t":"GS"},{"x":-3.8,"y":-68.7,"t":"GS"},{"x":1.3,"y":-44.1,"t":"GS"}]},
       "mark": {"type": "text", "font": "Liberation Sans", "fontSize": 13, "fontStyle": "italic", "align": "left", "baseline": "alphabetic"},
       "encoding": {"x": {"field": "x", "type": "quantitative", "axis": null}, "y": {"field": "y", "type": "quantitative", "axis": null}, "text": {"field": "t"}}},
      {"data": {"values": [{"x":-5.0,"y":-84.3,"t":": -30 V ~ 50V"},{"x":-8.6,"y":-70.9,"t":": 4 V"},{"x":-3.8,"y":-46.8,"t":"-30 V"}]},
       "mark": {"type": "text", "font": "Liberation Sans", "fontSize": 18, "align": "left", "baseline": "alphabetic"},
       "encoding": {"x": {"field": "x", "type": "quantitative", "axis": null}, "y": {"field": "y", "type": "quantitative", "axis": null}, "text": {"field": "t"}}},
      {"data": {"values": [{"x":2,"y":-84.3,"t":"V"},{"x":1.56,"y":-70.9,"t":"ΔV"},{"x":4,"y":-46.8,"t":"V"}]},
       "mark": {"type": "text", "font": "Liberation Sans", "fontSize": 18, "fontStyle": "italic", "align": "left", "baseline": "alphabetic"},
       "encoding": {"x": {"field": "x", "type": "quantitative", "axis": null}, "y": {"field": "y", "type": "quantitative", "axis": null}, "text": {"field": "t"}}},
      {"data": {"values": [{"x":-56.7,"y":-91.4,"t":"-10V"},{"x":-57.6,"y":-56.9,"t":"10V"},{"x":-57.1,"y":-2.2,"t":"30V"}]},
       "mark": {"type": "text", "font": "Liberation Sans", "fontSize": 20, "align": "left", "baseline": "alphabetic"},
       "encoding": {"x": {"field": "x", "type": "quantitative", "axis": null}, "y": {"field": "y", "type": "quantitative", "axis": null}, "text": {"field": "t"}}},
      {"data": {"values": [{"x":-16,"y":37.9,"t":"V"}]},
       "mark": {"type": "text", "font": "Liberation Serif", "fontSize": 22, "fontStyle": "italic", "align": "left", "baseline": "alphabetic"},
       "encoding": {"x": {"field": "x", "type": "quantitative", "axis": null}, "y": {"field": "y", "type": "quantitative", "axis": null}, "text": {"field": "t"}}},
      {"data": {"values": [{"x":-18.8,"y":40.1,"t":"DS"}]},
       "mark": {"type": "text", "font": "Liberation Serif", "fontSize": 15, "fontStyle": "italic", "align": "left", "baseline": "alphabetic"},
       "encoding": {"x": {"field": "x", "type": "quantitative", "axis": null}, "y": {"field": "y", "type": "quantitative", "axis": null}, "text": {"field": "t"}}},
      {"data": {"values": [{"x":-25.8,"y":37.9,"t":"[V]"}]},
       "mark": {"type": "text", "font": "Liberation Serif", "fontSize": 22, "align": "left", "baseline": "alphabetic"},
       "encoding": {"x": {"field": "x", "type": "quantitative", "axis": null}, "y": {"field": "y", "type": "quantitative", "axis": null}, "text": {"field": "t"}}},
      {"data": {"values": [{"x":14,"y":-13.4,"t":"I"}]},
       "mark": {"type": "text", "font": "Liberation Serif", "fontSize": 22, "fontStyle": "italic", "align": "left", "baseline": "alphabetic", "angle": 270},
       "encoding": {"x": {"field": "x", "type": "quantitative", "axis": null}, "y": {"field": "y", "type": "quantitative", "axis": null}, "text": {"field": "t"}}},
      {"data": {"values": [{"x":13.3,"y":-18.3,"t":"DS"}]},
       "mark": {"type": "text", "font": "Liberation Serif", "fontSize": 15, "fontStyle": "italic", "align": "left", "baseline": "alphabetic", "angle": 270},
       "encoding": {"x": {"field": "x", "type": "quantitative", "axis": null}, "y": {"field": "y", "type": "quantitative", "axis": null}, "text": {"field": "t"}}},
      {"data": {"values": [{"x":14,"y":-35.5,"t":"[ mA/mm]"}]},
       "mark": {"type": "text", "font": "Liberation Serif", "fontSize": 21, "align": "left", "baseline": "alphabetic", "angle": 270},
       "encoding": {"x": {"field": "x", "type": "quantitative", "axis": null}, "y": {"field": "y", "type": "quantitative", "axis": null}, "text": {"field": "t"}}},
      {"data": {"values": [{"x":17.6,"y":38.8,"t":"(c)"}]},
       "mark": {"type": "text", "font": "Liberation Sans", "fontSize": 22, "align": "left", "baseline": "alphabetic"},
       "encoding": {"x": {"field": "x", "type": "quantitative", "axis": null}, "y": {"field": "y", "type": "quantitative", "axis": null}, "text": {"field": "t"}}},
      {"data": {"values": [{"x":-13.8,"y":-51.3,"x2":-21.0,"y2":-59.8}]},
       "mark": {"type": "rule", "strokeWidth": 3, "color": "#000"},
       "encoding": {"x": {"field": "x", "type": "quantitative", "axis": null}, "y": {"field": "y", "type": "quantitative", "axis": null}, "x2": {"field": "x2"}, "y2": {"field": "y2"}}},
      {"data": {"values": [{"x":-21.3,"y":-60.2}]},
       "mark": {"type": "point", "shape": "M-1,-0.8L0,0L-1,0.8", "filled": false, "size": 256, "angle": 338, "strokeWidth": 3, "color": "#000", "opacity": 1},
       "encoding": {"x": {"field": "x", "type": "quantitative", "axis": null}, "y": {"field": "y", "type": "quantitative", "axis": null}}},
      {"data": {"values": [{"x":-54.6,"y":-95.9,"x2":-51.0},{"x":-54.6,"y":-61.3,"x2":-51.0},{"x":-54.6,"y":-6.7,"x2":-51.0}]},
       "mark": {"type": "rule", "strokeWidth": 1.6, "color": "#000"},
       "encoding": {"x": {"field": "x", "type": "quantitative", "axis": null}, "y": {"field": "y", "type": "quantitative", "axis": null}, "x2": {"field": "x2"}}},
      {"data": {"values": [{"x":-50.9,"y":-95.9},{"x":-50.9,"y":-61.3},{"x":-50.9,"y":-6.7}]},
       "mark": {"type": "point", "shape": "M-1,-0.8L0,0L-1,0.8", "filled": false, "size": 100, "angle": 180, "strokeWidth": 1.6, "color": "#000", "opacity": 1},
       "encoding": {"x": {"field": "x", "type": "quantitative", "axis": null}, "y": {"field": "y", "type": "quantitative", "axis": null}}}
    ]
  }
]
}
